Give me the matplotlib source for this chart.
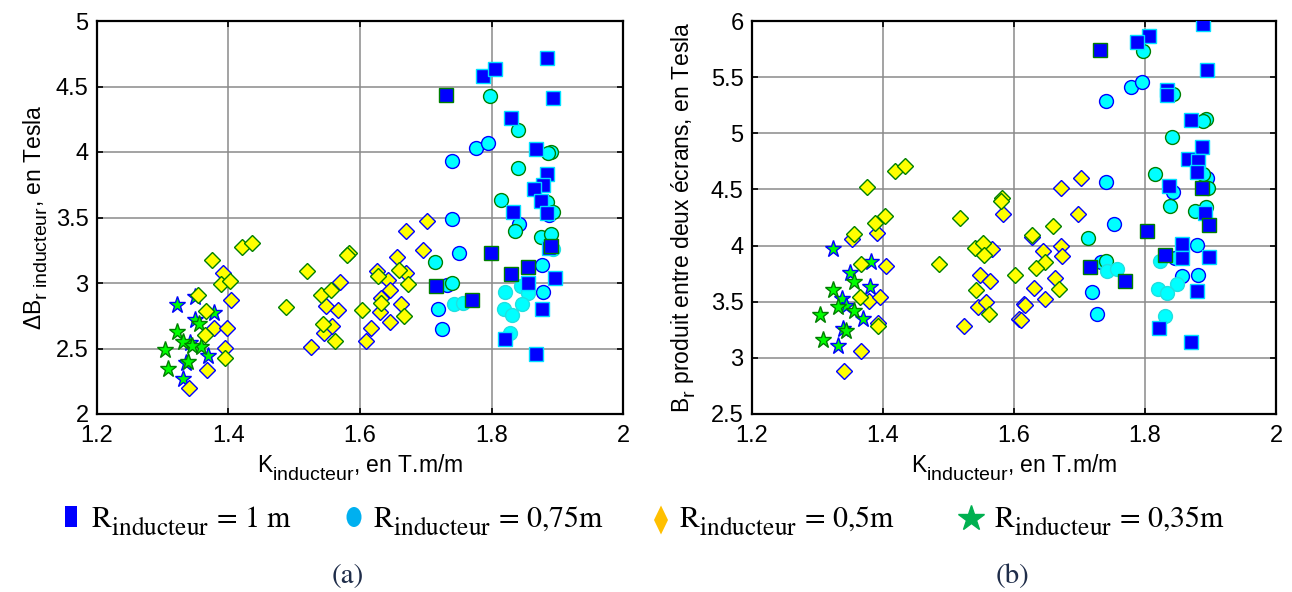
import numpy as np
import matplotlib
matplotlib.use("Agg")
import matplotlib.pyplot as plt
from matplotlib.lines import Line2D
from matplotlib.patches import Rectangle, Ellipse, Polygon
import matplotlib._mathtext as _mt

# larger and lower subscripts, as in the source figure
_mt.SHRINK_FACTOR = 0.85
_consts = [_mt.FontConstantsBase]
while _consts:
    _c = _consts.pop()
    _c.sub1 = 0.62
    _consts.extend(_c.__subclasses__())

plt.rcParams['font.family'] = ['Liberation Sans', 'DejaVu Sans']
plt.rcParams['mathtext.fontset'] = 'stix'

# ---------------- (a) Delta B_r inducteur ----------------
# R = 1 m (squares)
a_sq_k = [1.885, 1.787, 1.806, 1.731, 1.893, 1.830, 1.868, 1.884, 1.879, 1.865, 1.876, 1.884, 1.832,
          1.891, 1.887, 1.799, 1.829, 1.715, 1.770, 1.855, 1.856, 1.896, 1.877, 1.821, 1.868]
a_sq_B = [4.72, 4.58, 4.635, 4.435, 4.41, 4.26, 4.025, 3.83, 3.745, 3.715, 3.625, 3.535, 3.54,
          3.28, 3.265, 3.23, 3.065, 2.975, 2.868, 3.125, 3.0, 3.04, 2.80, 2.575, 2.455]
a_sq_g = [0, 0, 0, 1, 0, 0, 0, 0, 0, 0, 0, 0, 0,
          1, 0, 1, 1, 1, 1, 1, 0, 0, 0, 0, 0]
# R = 0.75 m (circles)
a_ci_k = [1.797, 1.841, 1.777, 1.794, 1.740, 1.891, 1.886, 1.840, 1.815, 1.740, 1.842, 1.836,
          1.876, 1.891, 1.888, 1.885, 1.893, 1.751, 1.714, 1.740, 1.732, 1.719, 1.724, 1.743,
          1.756, 1.877, 1.879, 1.820, 1.845, 1.855, 1.846, 1.819, 1.831, 1.828, 1.894]
a_ci_B = [4.43, 4.165, 4.03, 4.065, 3.93, 4.0, 3.99, 3.875, 3.637, 3.487, 3.447, 3.40,
          3.35, 3.375, 3.52, 3.62, 3.54, 3.23, 3.16, 3.0, 2.985, 2.80, 2.65, 2.84,
          2.845, 3.14, 2.93, 2.93, 2.975, 2.92, 2.84, 2.80, 2.755, 2.62, 3.26]
a_ci_g = [1, 1, 0, 0, 0, 1, 1, 1, 1, 0, 0, 1,
          1, 1, 0, 1, 1, 0, 1, 1, 0, 0, 0, 2,
          2, 0, 0, 2, 2, 2, 2, 2, 2, 2, 2]
# R = 0.5 m (diamonds)
a_di_k = [1.375, 1.391, 1.388, 1.402, 1.353, 1.404, 1.366, 1.378, 1.397, 1.365, 1.395, 1.394,
          1.367, 1.340, 1.421, 1.436, 1.487, 1.520, 1.525, 1.541, 1.556, 1.569, 1.548, 1.566,
          1.544, 1.546, 1.558, 1.562, 1.583, 1.580, 1.603, 1.617, 1.609, 1.626, 1.627, 1.643,
          1.646, 1.632, 1.632, 1.630, 1.646, 1.657, 1.659, 1.670, 1.673, 1.662, 1.667, 1.670,
          1.696, 1.702]
a_di_B = [3.175, 3.075, 2.99, 3.015, 2.905, 2.867, 2.785, 2.66, 2.66, 2.60, 2.505, 2.43,
          2.335, 2.20, 3.272, 3.307, 2.82, 3.094, 2.51, 2.91, 2.946, 3.01, 2.827, 2.795,
          2.688, 2.617, 2.668, 2.561, 3.228, 3.21, 2.795, 2.66, 2.561, 3.094, 3.05, 3.02,
          2.945, 2.885, 2.85, 2.775, 2.705, 3.195, 3.10, 3.075, 2.995, 2.84, 2.745, 3.40,
          3.255, 3.475]
a_di_g = [1, 0, 1, 1, 1, 0, 1, 0, 0, 1, 0, 1,
          0, 0, 1, 1, 1, 1, 0, 1, 1, 0, 0, 0,
          1, 0, 0, 1, 1, 1, 1, 0, 0, 0, 1, 0,
          0, 0, 1, 0, 0, 0, 1, 0, 1, 0, 1, 0,
          0, 0]
# R = 0.35 m (stars)
a_st_k = [1.322, 1.378, 1.349, 1.342, 1.369, 1.331, 1.349, 1.336,
          1.355, 1.321, 1.331, 1.358, 1.303, 1.339, 1.308, 1.345]
a_st_B = [2.83, 2.77, 2.72, 2.54, 2.44, 2.27, 2.89, 2.39,
          2.69, 2.625, 2.55, 2.515, 2.49, 2.40, 2.34, 2.52]
a_st_g = [0, 0, 0, 0, 0, 0, 0, 0,
          1, 1, 1, 1, 1, 1, 1, 1]

# ---------------- (b) B_r produit entre deux ecrans ----------------
b_sq_k = [1.889, 1.806, 1.788, 1.732, 1.894, 1.833, 1.833, 1.870, 1.887, 1.866, 1.881, 1.879, 1.887,
          1.836, 1.892, 1.898, 1.803, 1.857, 1.857, 1.830, 1.898, 1.716, 1.770, 1.879, 1.822, 1.870]
b_sq_B = [5.97, 5.87, 5.81, 5.74, 5.56, 5.385, 5.345, 5.12, 4.88, 4.77, 4.75, 4.655, 4.51,
          4.53, 4.29, 4.185, 4.13, 4.01, 3.89, 3.915, 3.90, 3.81, 3.685, 3.595, 3.262, 3.14]
b_sq_g = [0, 0, 0, 1, 0, 0, 0, 0, 0, 0, 0, 0, 1,
          0, 0, 1, 1, 0, 0, 1, 0, 1, 1, 0, 0, 0]
b_ci_k = [1.797, 1.779, 1.795, 1.740, 1.843, 1.893, 1.889, 1.841, 1.816, 1.740, 1.843, 1.838,
          1.876, 1.893, 1.894, 1.889, 1.896, 1.752, 1.713, 1.879, 1.823, 1.846, 1.740, 1.733,
          1.742, 1.757, 1.719, 1.726, 1.857, 1.849, 1.881, 1.820, 1.833, 1.830]
b_ci_B = [5.73, 5.41, 5.455, 5.285, 5.35, 5.125, 5.105, 4.97, 4.64, 4.57, 4.48, 4.355,
          4.31, 4.345, 4.605, 4.635, 4.51, 4.19, 4.065, 4.005, 3.86, 3.89, 3.86, 3.85,
          3.77, 3.795, 3.59, 3.395, 3.73, 3.66, 3.735, 3.61, 3.58, 3.37]
b_ci_g = [1, 0, 0, 0, 1, 1, 1, 1, 1, 0, 0, 1,
          1, 1, 0, 1, 1, 0, 1, 0, 2, 0, 1, 0,
          2, 2, 0, 0, 0, 2, 0, 2, 2, 2]
b_di_k = [1.375, 1.388, 1.391, 1.355, 1.352, 1.367, 1.365, 1.379, 1.395, 1.393, 1.392, 1.367,
          1.340, 1.403, 1.405, 1.418, 1.434, 1.517, 1.485, 1.582, 1.580, 1.583, 1.540, 1.553,
          1.567, 1.554, 1.548, 1.564, 1.542, 1.545, 1.558, 1.562, 1.524, 1.602, 1.615, 1.608,
          1.671, 1.703, 1.698, 1.660, 1.628, 1.628, 1.644, 1.671, 1.674, 1.647, 1.633, 1.631,
          1.663, 1.669, 1.647, 1.617, 1.611]
b_di_B = [4.52, 4.20, 4.11, 4.10, 4.06, 3.84, 3.54, 3.51, 3.54, 3.28, 3.31, 3.065,
          2.885, 4.26, 3.82, 4.66, 4.71, 4.245, 3.835, 4.425, 4.40, 4.28, 3.975, 4.02,
          3.97, 3.915, 3.735, 3.688, 3.60, 3.45, 3.495, 3.39, 3.285, 3.735, 3.48, 3.35,
          4.51, 4.60, 4.28, 4.175, 4.075, 4.09, 3.95, 4.0, 3.91, 3.855, 3.80, 3.625,
          3.715, 3.61, 3.52, 3.467, 3.34]
b_di_g = [1, 1, 0, 1, 0, 1, 1, 0, 0, 1, 0, 0,
          0, 1, 0, 1, 1, 1, 1, 1, 1, 0, 1, 1,
          0, 1, 0, 0, 1, 0, 0, 1, 0, 1, 0, 0,
          0, 0, 0, 1, 0, 1, 0, 0, 0, 1, 1, 0,
          0, 1, 0, 0, 0]
b_st_k = [1.323, 1.381, 1.350, 1.380, 1.338, 1.343, 1.369, 1.339, 1.331,
          1.356, 1.323, 1.332, 1.356, 1.304, 1.343, 1.309]
b_st_B = [3.97, 3.85, 3.755, 3.63, 3.525, 3.465, 3.345, 3.26, 3.105,
          3.675, 3.60, 3.45, 3.42, 3.38, 3.24, 3.16]
b_st_g = [0, 0, 0, 0, 0, 0, 0, 0, 0,
          1, 1, 1, 1, 1, 1, 1]

x_ticks = [1.2, 1.4, 1.6, 1.8, 2.0]
x_ticklabels = ['1.2', '1.4', '1.6', '1.8', '2']
a_yticks = [2, 2.5, 3, 3.5, 4, 4.5, 5]
a_yticklabels = ['2', '2.5', '3', '3.5', '4', '4.5', '5']
b_yticks = [2.5, 3, 3.5, 4, 4.5, 5, 5.5, 6]
b_yticklabels = ['2.5', '3', '3.5', '4', '4.5', '5', '5.5', '6']

legend_labels = [r'R$_{\mathregular{inducteur}}$ = 1 m',
                 r'R$_{\mathregular{inducteur}}$ = 0,75m',
                 r'R$_{\mathregular{inducteur}}$ = 0,5m',
                 r'R$_{\mathregular{inducteur}}$ = 0,35m']
legend_colors = ['#0000ff', '#00b0f0', '#ffc000', '#00b050']

BLUE = '#0000ff'
GREEN_E = '#008000'
CYAN = '#00ffff'

W, H = 1292, 592
fig = plt.figure(figsize=(W / 100, H / 100), dpi=100)


def fx(x):
    return x / W


def fy(y):
    return 1 - y / H


def px_axes(x0, x1, y0, y1):
    return fig.add_axes([x0 / W, 1 - y1 / H, (x1 - x0) / W, (y1 - y0) / H])


def series(ax, k, B, g, marker, face, edges, ms, z):
    k = np.asarray(k); B = np.asarray(B); g = np.asarray(g)
    for gi, ec in enumerate(edges):
        m = g == gi
        if m.any():
            ax.plot(k[m], B[m], ls='none', marker=marker, mfc=face, mec=ec,
                    ms=ms, mew=1.0, zorder=z)


def draw(ax, st, di, ci, sq, yticks, yticklabels, ylim):
    series(ax, *st, '*', '#00ff00', [BLUE, GREEN_E], 12.5, 3)
    series(ax, *di, 'D', '#ffff00', [BLUE, GREEN_E], 8.3, 4)
    series(ax, *ci, 'o', CYAN, [BLUE, GREEN_E, '#20e0e0'], 10, 5)
    series(ax, *sq, 's', BLUE, ['#00e0ff', GREEN_E], 10, 6)
    ax.set_xlim(1.2, 2.0)
    ax.set_ylim(*ylim)
    ax.set_xticks(x_ticks)
    ax.set_xticklabels(x_ticklabels)
    ax.set_yticks(yticks)
    ax.set_yticklabels(yticklabels)
    ax.grid(True, color='#8a8a8a', lw=1.1)
    ax.set_axisbelow(True)
    ax.tick_params(direction='in', length=4, width=1.2, top=True, right=True,
                   labelsize=17, colors='black')
    ax.tick_params(axis='y', pad=6)
    ax.tick_params(axis='x', pad=8)
    for s in ax.spines.values():
        s.set_linewidth(1.6)
    ax.set_xlabel(r'$\mathregular{K_{inducteur}}$, en T.m/m', fontsize=16.5)
    ax.xaxis.set_label_coords(0.5, -0.1)


ax1 = px_axes(97, 623, 21, 414)
draw(ax1, (a_st_k, a_st_B, a_st_g), (a_di_k, a_di_B, a_di_g), (a_ci_k, a_ci_B, a_ci_g),
     (a_sq_k, a_sq_B, a_sq_g), a_yticks, a_yticklabels, (2, 5))
ax1.set_ylabel(r'ΔB$_{\mathregular{r\ inducteur}}$, en Tesla', fontsize=16.5)
ax1.yaxis.set_label_coords(-0.09, 0.5)

ax2 = px_axes(752, 1276, 21, 414)
draw(ax2, (b_st_k, b_st_B, b_st_g), (b_di_k, b_di_B, b_di_g), (b_ci_k, b_ci_B, b_ci_g),
     (b_sq_k, b_sq_B, b_sq_g), b_yticks, b_yticklabels, (2.5, 6))
ax2.set_ylabel(r'B$_{\mathregular{r}}$ produit entre deux écrans, en Tesla', fontsize=16.5)
ax2.yaxis.set_label_coords(-0.103, 0.5)

# ---- legend (drawn as free figure artists, positions in pixels) ----
fig.add_artist(Rectangle((fx(65), fy(527)), 11.5 / W, 21.5 / H, transform=fig.transFigure,
                         facecolor=legend_colors[0], edgecolor='none'))
fig.add_artist(Ellipse((fx(354), fy(517)), 15 / W, 20 / H, transform=fig.transFigure,
                       facecolor=legend_colors[1], edgecolor='none'))
cx, cy = 661, 520
fig.add_artist(Polygon([(fx(cx), fy(cy - 14.5)), (fx(cx + 7), fy(cy)), (fx(cx), fy(cy + 14.5)),
                        (fx(cx - 7), fy(cy))], closed=True, transform=fig.transFigure,
                       facecolor=legend_colors[2], edgecolor='none'))
fig.add_artist(Line2D([fx(971)], [fy(518)], transform=fig.transFigure, ls='none', marker='*',
                      ms=19, mfc=legend_colors[3], mec=legend_colors[3]))

text_x = [91, 373, 679, 994]
for tx, lab in zip(text_x, legend_labels):
    fig.text(fx(tx), fy(528), lab, family='STIXGeneral', fontsize=21.5,
             ha='left', va='baseline', color='black')

fig.text(fx(348), fy(576), '(a)', family='STIXGeneral', fontsize=21,
         color='#1f2d4a', ha='center', va='center')
fig.text(fx(1012), fy(576), '(b)', family='STIXGeneral', fontsize=21,
         color='#1f2d4a', ha='center', va='center')

fig.savefig('out.png', dpi=100)
